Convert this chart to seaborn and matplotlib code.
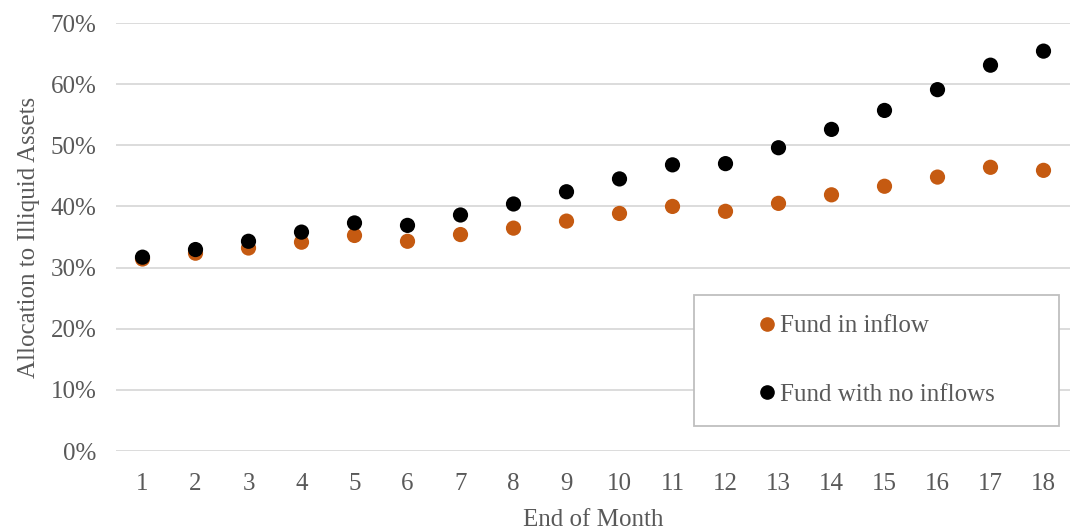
import matplotlib
matplotlib.use("Agg")
import matplotlib.pyplot as plt
import seaborn as sns
import pandas as pd
from matplotlib.patches import Rectangle
from matplotlib.ticker import PercentFormatter

months = list(range(1, 19))
fund_in_inflow = [31.4, 32.35, 33.2, 34.15, 35.25, 34.3, 35.4, 36.45, 37.6,
                  38.85, 40.0, 39.2, 40.5, 41.9, 43.3, 44.8, 46.4, 45.9]
fund_no_inflows = [31.7, 32.95, 34.3, 35.8, 37.3, 36.9, 38.6, 40.4, 42.4,
                   44.5, 46.8, 47.0, 49.6, 52.6, 55.7, 59.1, 63.1, 65.4]
series_names = ["Fund in inflow", "Fund with no inflows"]
y_ticks = [0, 10, 20, 30, 40, 50, 60, 70]

df = pd.DataFrame({
    "month": months * 2,
    "value": fund_in_inflow + fund_no_inflows,
    "series": [series_names[0]] * len(months) + [series_names[1]] * len(months),
})

sns.set_theme(style="white")
plt.rcParams["font.family"] = ["Liberation Serif", "DejaVu Serif"]
text_color = "#595959"
fs = 18

fig = plt.figure(figsize=(10.71, 5.31), dpi=100)
ax = fig.add_axes([116 / 1071, 1 - 451 / 531, (1070 - 116) / 1071, (451 - 23) / 531])

sns.scatterplot(data=df, x="month", y="value", hue="series",
                palette={series_names[0]: "#C55A11", series_names[1]: "#000000"},
                s=120, linewidth=0, ax=ax, legend=False, zorder=3)

ax.set_xlim(0.5, 18.5)
ax.set_ylim(0, 70)
ax.set_yticks(y_ticks)
ax.yaxis.set_major_formatter(PercentFormatter(decimals=0))
ax.set_xticks(months)
ax.grid(axis="y", color="#d9d9d9", linewidth=1.3)
ax.grid(axis="x", visible=False)
for s in ax.spines.values():
    s.set_visible(False)
ax.tick_params(axis="y", length=0, labelsize=fs, colors=text_color, pad=14)
ax.tick_params(axis="x", length=0, labelsize=fs, colors=text_color, pad=16)
ax.set_xlabel("End of Month", fontsize=fs, color=text_color, labelpad=10)
ax.set_ylabel("Allocation to Illiquid Assets", fontsize=fs, color=text_color, labelpad=8)

# legend box
fig.patches.append(Rectangle((694 / 1071, 1 - 426 / 531), (1059 - 694) / 1071, (426 - 295) / 531,
                             transform=fig.transFigure, facecolor="white",
                             edgecolor="#bfbfbf", linewidth=1.3, zorder=5))
handles = [plt.Line2D([], [], marker="o", linestyle="", color=c, markersize=9.5)
           for c in ["#C55A11", "#000000"]]
leg = fig.legend(handles, series_names, loc="center",
                 bbox_to_anchor=((694 + 1059) / 2 / 1071, 1 - (295 + 426) / 2 / 531),
                 frameon=False, fontsize=fs, labelspacing=1.85, handletextpad=0.15,
                 handlelength=0.7, labelcolor=text_color)
leg.set_zorder(6)

fig.savefig("out.png", dpi=100)
